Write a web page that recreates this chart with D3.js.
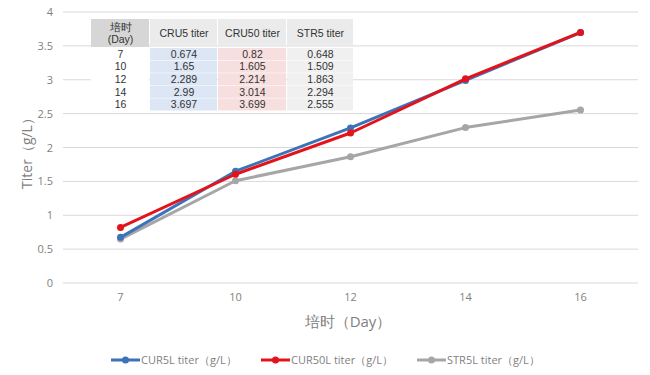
<!DOCTYPE html>
<html><head><meta charset="utf-8">
<script src="https://cdn.jsdelivr.net/npm/d3@7/dist/d3.min.js"></script>
<style>body{margin:0;background:#fff;}svg{display:block;}</style>
</head><body>
<script>
const days = ["7","10","12","14","16"];
const cru5 = [0.674, 1.65, 2.289, 2.99, 3.697];
const cru50 = [0.82, 1.605, 2.214, 3.014, 3.699];
const str5 = [0.648, 1.509, 1.863, 2.294, 2.555];
const yTicks = [0, 0.5, 1, 1.5, 2, 2.5, 3, 3.5, 4];
const legendNames = ["CUR5L titer（g/L）", "CUR50L titer（g/L）", "STR5L titer（g/L）"];
const tableHeaders = ["培时\n(Day)", "CRU5 titer", "CRU50 titer", "STR5 titer"];
const tableCru5 = ["0.674","1.65","2.289","2.99","3.697"];
const tableCru50 = ["0.82","1.605","2.214","3.014","3.699"];
const tableStr5 = ["0.648","1.509","1.863","2.294","2.555"];

const W = 650, H = 375;
const svg = d3.select("body").append("svg").attr("width", W).attr("height", H);
const x = d3.scaleBand().domain(days).range([63, 638]);
const y = d3.scaleLinear().domain([0, 4]).range([283, 12]);
const axisFont = "'Open Sans', 'Noto Sans', sans-serif";

// gridlines
svg.append("g").selectAll("line").data(yTicks).join("line")
  .attr("x1", 63).attr("x2", 638)
  .attr("y1", d => y(d)).attr("y2", d => y(d))
  .attr("stroke", "#d9d9d9").attr("stroke-width", 1);

// y axis labels
const yAxis = d3.axisLeft(y).tickValues(yTicks).tickSize(0).tickPadding(0).tickFormat(d => String(d));
const yg = svg.append("g").attr("transform", "translate(53,0)").call(yAxis);
yg.select(".domain").remove();
yg.selectAll("text").attr("fill", "#7f7f7f").style("font-family", axisFont).style("font-size", "11px");

// x axis labels
const xAxis = d3.axisBottom(x).tickSize(0).tickPadding(0);
const xg = svg.append("g").attr("transform", "translate(0,293)").call(xAxis);
xg.select(".domain").remove();
xg.selectAll("text").attr("fill", "#7f7f7f").style("font-family", axisFont).style("font-size", "11px");

// axis titles
svg.append("text").attr("transform", "translate(32,150) rotate(-90)")
  .attr("text-anchor", "middle").attr("fill", "#7f7f7f")
  .style("font-family", axisFont).style("font-size", "14px").text("Titer（g/L）");
svg.append("text").attr("x", 348).attr("y", 327).attr("text-anchor", "middle")
  .attr("fill", "#7f7f7f").style("font-family", axisFont).style("font-size", "15px").text("培时（Day）");

// series
const series = [
  {name: legendNames[0], values: cru5, color: "#3c72b8"},
  {name: legendNames[1], values: cru50, color: "#e3131b"},
  {name: legendNames[2], values: str5, color: "#a6a6a6"}
];
const line = d3.line().x((d, i) => x(days[i]) + x.bandwidth() / 2).y(d => y(d));
const drawOrder = [2, 0, 1];
drawOrder.forEach(k => {
  const s = series[k];
  const g = svg.append("g");
  g.append("path").datum(s.values).attr("d", line).attr("fill", "none")
    .attr("stroke", s.color).attr("stroke-width", 3).attr("stroke-linejoin", "round");
  g.selectAll("circle").data(s.values).join("circle")
    .attr("cx", (d, i) => x(days[i]) + x.bandwidth() / 2).attr("cy", d => y(d))
    .attr("r", 3.5).attr("fill", s.color);
});

// table
const colX = [91, 150, 218, 287, 354];
const headerTop = 19, headerH = 28, rowH = 12.6;
const tg = svg.append("g");
const headerBg = ["#d6d6d6", "#ebebeb", "#ebebeb", "#ebebeb"];
const colBg = ["#ffffff", "#dce6f4", "#f7dfdf", "#f0f0f0"];
tableHeaders.forEach((h, c) => {
  tg.append("rect").attr("x", colX[c]).attr("y", headerTop)
    .attr("width", colX[c + 1] - colX[c] - 1).attr("height", headerH).attr("fill", headerBg[c]);
  const lines = h.split("\n");
  lines.forEach((t, j) => {
    tg.append("text").attr("x", (colX[c] + colX[c + 1]) / 2)
      .attr("y", headerTop + headerH / 2 + (j - (lines.length - 1) / 2) * 12 + 4)
      .attr("text-anchor", "middle").attr("fill", "#333")
      .style("font-family", "'Liberation Sans', Arial, sans-serif").style("font-size", "10.5px").text(t);
  });
});
const cols = [days, tableCru5, tableCru50, tableStr5];
days.forEach((d, r) => {
  cols.forEach((col, c) => {
    const top = headerTop + headerH + 1 + r * rowH;
    tg.append("rect").attr("x", colX[c]).attr("y", top)
      .attr("width", colX[c + 1] - colX[c] - 1).attr("height", rowH - 0.5).attr("fill", colBg[c]);
    tg.append("text").attr("x", (colX[c] + colX[c + 1]) / 2).attr("y", top + rowH / 2 + 3.5)
      .attr("text-anchor", "middle").attr("fill", "#333")
      .style("font-family", "'Liberation Sans', Arial, sans-serif").style("font-size", "10.5px").text(col[r]);
  });
});

// legend
const legX = [111, 261, 417];
series.forEach((s, i) => {
  const g = svg.append("g").attr("transform", `translate(${legX[i]},360)`);
  g.append("line").attr("x1", 0).attr("x2", 29).attr("stroke", s.color).attr("stroke-width", 3);
  g.append("circle").attr("cx", 14.5).attr("r", 3.5).attr("fill", s.color);
  g.append("text").attr("x", 30).attr("y", 4).attr("fill", "#7f7f7f")
    .style("font-family", axisFont).style("font-size", "11px").text(s.name);
});
</script>
</body></html>
